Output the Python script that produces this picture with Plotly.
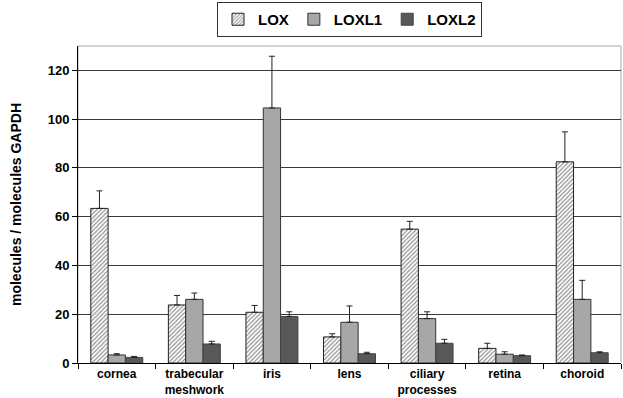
import plotly.graph_objects as go

categories = ["cornea", "trabecular<br>meshwork", "iris", "lens", "ciliary<br>processes", "retina", "choroid"]
lox = [63.4, 23.8, 20.8, 10.7, 54.9, 6.0, 82.5]
lox_err = [7.2, 3.9, 2.8, 1.3, 3.2, 2.1, 12.3]
loxl1 = [3.3, 26.1, 104.6, 16.7, 18.2, 3.6, 26.1]
loxl1_err = [0.5, 2.6, 21.2, 6.7, 2.8, 1.0, 7.8]
loxl2 = [2.3, 7.8, 19.1, 3.8, 8.1, 3.0, 4.2]
loxl2_err = [0.4, 1.1, 1.9, 0.6, 1.6, 0.3, 0.4]
y_ticks = [0, 20, 40, 60, 80, 100, 120]

FONT = "Liberation Sans, Arial, sans-serif"

def err(vals):
    return dict(type="data", array=vals, arrayminus=[0] * len(vals), symmetric=False,
                color="#222222", thickness=1, width=3)

fig = go.Figure()
fig.add_bar(name="<b>LOX</b>", x=categories, y=lox, error_y=err(lox_err),
            marker=dict(color="white", line=dict(color="#222222", width=1),
                        pattern=dict(shape="/", fgcolor="#222222", bgcolor="white", size=3, solidity=0.4)))
fig.add_bar(name="<b>LOXL1</b>", x=categories, y=loxl1, error_y=err(loxl1_err),
            marker=dict(color="#A7A7AA", line=dict(color="#333333", width=1)))
fig.add_bar(name="<b>LOXL2</b>", x=categories, y=loxl2, error_y=err(loxl2_err),
            marker=dict(color="#58585B", line=dict(color="#444444", width=1)))

fig.update_layout(
    width=623, height=398,
    margin=dict(l=78, r=2, t=46, b=35),
    paper_bgcolor="white", plot_bgcolor="white",
    barmode="group", bargap=0.33, bargroupgap=0,
    font=dict(family=FONT, size=11, color="black"),
    showlegend=True,
    legend=dict(orientation="h", x=0.5, xanchor="center", y=0.995, yanchor="top",
                yref="container", bordercolor="#333333", borderwidth=1,
                font=dict(size=15, family=FONT), itemwidth=30, tracegroupgap=0),
    xaxis=dict(showline=True, linecolor="black", linewidth=1, ticks="outside",
               tickson="boundaries", ticklen=5, tickcolor="black",
               tickfont=dict(size=12, family=FONT), mirror=False),
    yaxis=dict(range=[0, 130], tickvals=y_ticks, showline=True, linecolor="black",
               linewidth=1, ticks="outside", ticklen=5, tickcolor="black",
               showgrid=True, gridcolor="#3a3a3a", gridwidth=1,
               tickfont=dict(size=13, family=FONT),
               title=dict(text="<b>molecules / molecules GAPDH</b>", font=dict(size=14, family=FONT), standoff=22)),
)
fig.update_xaxes(tickvals=categories, ticktext=["<b>" + c.replace("<br>", "</b><br><b>") + "</b>" for c in categories])
fig.update_yaxes(ticktext=["<b>%d</b>" % v for v in y_ticks])
fig.add_shape(type="rect", xref="paper", yref="paper", x0=0, x1=1, y0=0, y1=1,
              line=dict(color="#aaaaaa", width=1), layer="below")
fig.write_html("out.html")
